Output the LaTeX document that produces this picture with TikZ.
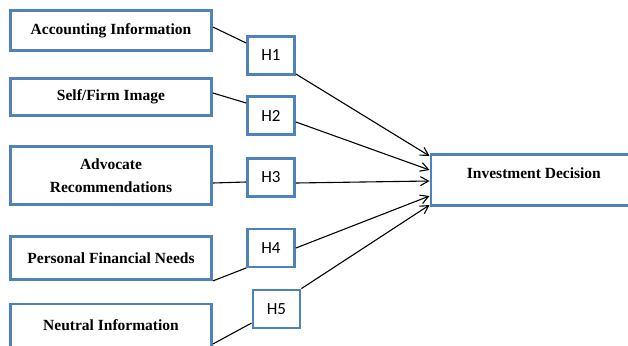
\documentclass[tikz,border=0pt]{standalone}
\usepackage{fontspec}
\setmainfont{Liberation Serif}
\newfontfamily\hfont{Carlito}
\usepackage{tikz}
\usetikzlibrary{positioning,arrows.meta}
\definecolor{boxblue}{RGB}{79,129,189}

\begin{document}
\begin{tikzpicture}[x=1pt,y=-1pt,
	factor/.style={shape=rectangle,draw=boxblue,line width=2.8pt,fill=white,minimum width=201pt,align=center,inner sep=0pt,font=\fontsize{15.5}{23}\selectfont\bfseries},
	hyp/.style={shape=rectangle,draw=boxblue,line width=2.8pt,fill=white,minimum width=47pt,minimum height=38pt,inner sep=0pt,font=\hfont\fontsize{17}{20}\selectfont},
	>={Straight Barb[length=8pt,width=9pt]}]
	\useasboundingbox (0,0) rectangle (628,345);
	\clip (0,0) rectangle (628,345);
	\node[factor,minimum height=40pt] (AI) at (111,30.5) {Accounting Information};
	\node[factor,minimum height=37pt] (SFI) at (111,97) {Self/Firm Image};
	\node[factor,minimum height=58pt] (AR) at (111,175.5) {Advocate\\Recommendations};
	\node[factor,minimum height=43pt] (PFN) at (111,258) {Personal Financial Needs};
	\node[factor,minimum height=43pt] (NI) at (111,325.5) {Neutral Information};
	\node[hyp] (H1) at (271,55.5) {H1};
	\node[hyp] (H2) at (271,115.5) {H2};
	\node[hyp] (H3) at (271,177.5) {H3};
	\node[hyp] (H4) at (271,248) {H4};
	\node[hyp] (H5) at (276.5,309) {H5};
	\node[factor,minimum width=206pt,minimum height=51pt,text depth=14pt,anchor=west] (ID) at (429.5,180) {Investment Decision};
	\draw[line width=1.1pt] ([yshift=3.5pt]AI.east) -- ([yshift=12.5pt]H1.west);
	\draw[line width=1.1pt] ([yshift=4pt]SFI.east) -- ([yshift=12.5pt]H2.west);
	\draw[line width=1.1pt] ([yshift=-7.5pt]AR.east) -- ([yshift=-4.5pt]H3.west);
	\draw[line width=1.1pt] (PFN.south east) -- ([yshift=-20pt]H4.west);
	\draw[line width=1.1pt] ([yshift=-18.5pt]NI.east) -- ([yshift=-14pt]H5.west);
	\draw[->,line width=1.1pt] ([yshift=-18.5pt]H1.east) -- ([yshift=24pt]ID.west);
	\draw[->,line width=1.1pt] ([yshift=-6.5pt]H2.east) -- ([yshift=10pt]ID.west);
	\draw[->,line width=1.1pt] ([yshift=-5.5pt]H3.east) -- ([yshift=-1pt]ID.west);
	\draw[->,line width=1.1pt] (H4.east) -- ([yshift=-16pt]ID.west);
	\draw[->,line width=1.1pt] (H5.north east) -- ([yshift=-25pt]ID.west);
\end{tikzpicture}
\end{document}
